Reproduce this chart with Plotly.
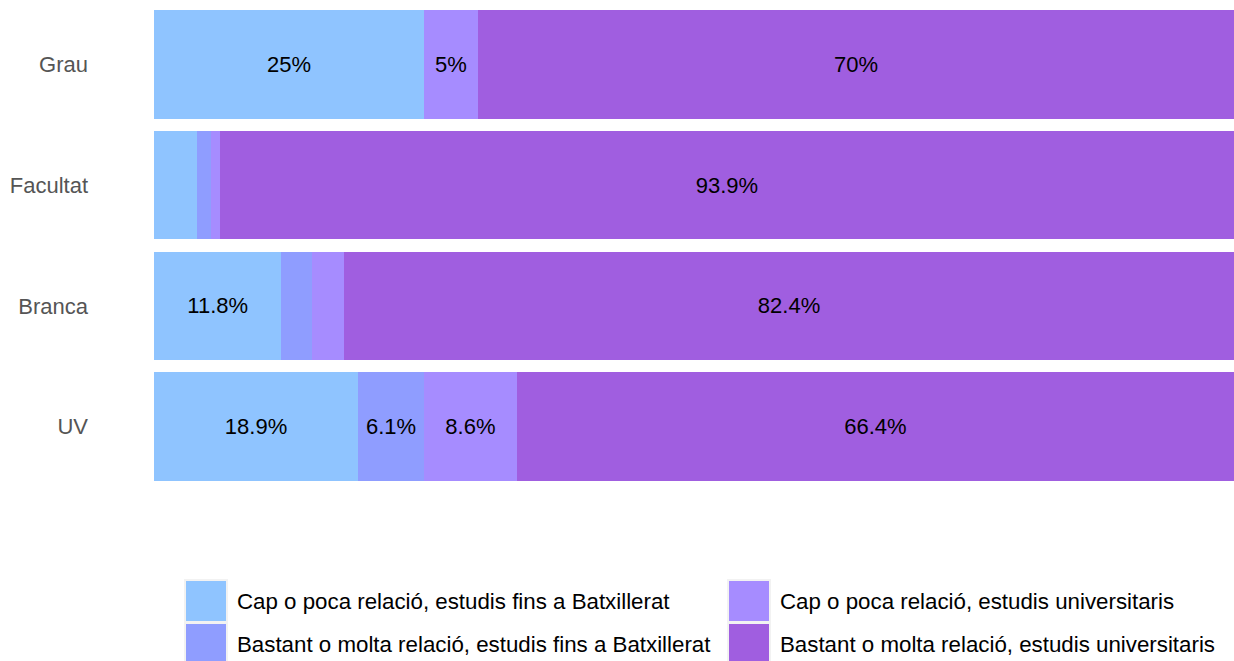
import plotly.graph_objects as go

categories = ["Grau", "Facultat", "Branca", "UV"]
series_names = [
    "Cap o poca relació, estudis fins a Batxillerat",
    "Bastant o molta relació, estudis fins a Batxillerat",
    "Cap o poca relació, estudis universitaris",
    "Bastant o molta relació, estudis universitaris",
]
cap_batx = [25, 4.0, 11.8, 18.9]
bastant_batx = [0, 1.3, 2.8, 6.1]
cap_univ = [5, 0.8, 3.0, 8.6]
bastant_univ = [70, 93.9, 82.4, 66.4]
colors = ["#8FC4FF", "#8F9DFF", "#A68CFF", "#A05EE0"]

values = [cap_batx, bastant_batx, cap_univ, bastant_univ]
FONT = "Liberation Sans, Arial"

fig = go.Figure()
for name, vals, col in zip(series_names, values, colors):
    labels = [f"{v:g}%" if v >= 5 else "" for v in vals]
    fig.add_trace(go.Bar(
        y=categories, x=vals, name=name, orientation="h",
        marker=dict(color=col, line=dict(width=0)),
        text=labels, texttemplate="%{text}", textposition="inside",
        insidetextanchor="middle", textangle=0,
        textfont=dict(color="#000000", size=22, family=FONT),
        showlegend=False, hoverinfo="skip",
    ))

W, H = 1234, 661
ml, mr, mt, mb = 154, 0, 4, 174
pw, ph = W - ml - mr, H - mt - mb

def px2x(px):
    return (px - ml) / pw

def py2y(py):
    return (H - mb - py) / ph

shapes = []
annotations = []
legend_pos = [(186, 581), (186, 624), (729, 581), (729, 624)]
for (bx, by), name, col in zip(legend_pos, series_names, colors):
    shapes.append(dict(type="rect", xref="paper", yref="paper",
                       x0=px2x(bx - 1), x1=px2x(bx + 41), y0=py2y(by + 41), y1=py2y(by - 1),
                       fillcolor=col, line=dict(width=2, color="#F2F2F2")))
    annotations.append(dict(xref="paper", yref="paper", x=px2x(bx + 49), y=py2y(by + 20),
                            text=name, showarrow=False, xanchor="left", yanchor="middle",
                            font=dict(size=22.3, color="#000000", family=FONT)))

fig.update_layout(
    barmode="stack", bargap=0.1,
    width=W, height=H,
    margin=dict(l=ml, r=mr, t=mt, b=mb, pad=0),
    plot_bgcolor="white", paper_bgcolor="white",
    xaxis=dict(range=[0, 100], visible=False, fixedrange=True),
    yaxis=dict(categoryorder="array", categoryarray=categories[::-1], autorange=True,
               showgrid=False, zeroline=False, showline=False, ticks="",
               ticklabelstandoff=65,
               tickfont=dict(size=22, color="#555555", family=FONT)),
    shapes=shapes, annotations=annotations,
    font=dict(family=FONT),
)

fig.write_html("out.html", config={"displayModeBar": False},
               post_script="document.body.style.margin='0px';")
